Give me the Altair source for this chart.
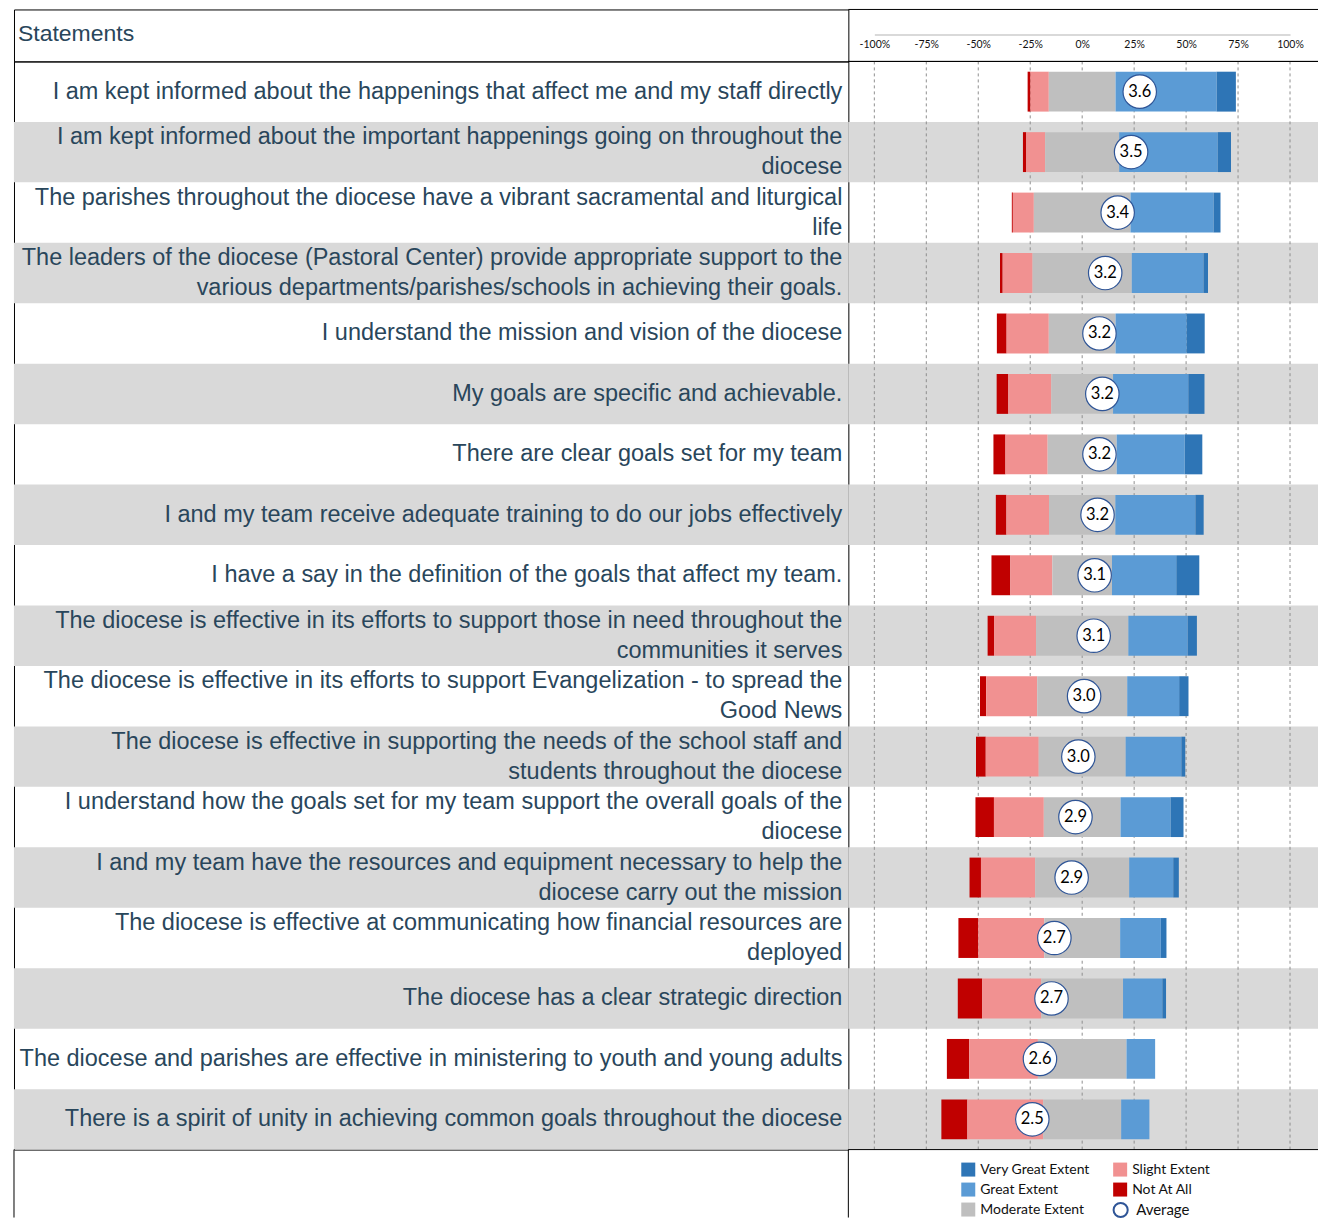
import altair as alt
import pandas as pd

# ---------------- data ----------------
statements = [
    "I am kept informed about the happenings that affect me and my staff directly",
    "I am kept informed about the important happenings going on throughout the\ndiocese",
    "The parishes throughout the diocese have a vibrant sacramental and liturgical\nlife",
    "The leaders of the diocese (Pastoral Center) provide appropriate support to the\nvarious departments/parishes/schools in achieving their goals.",
    "I understand the mission and vision of the diocese",
    "My goals are specific and achievable.",
    "There are clear goals set for my team",
    "I and my team receive adequate training to do our jobs effectively",
    "I have a say in the definition of the goals that affect my team.",
    "The diocese is effective in its efforts to support those in need throughout the\ncommunities it serves",
    "The diocese is effective in its efforts to support Evangelization - to spread the\nGood News",
    "The diocese is effective in supporting the needs of the school staff and\nstudents throughout the diocese",
    "I understand how the goals set for my team support the overall goals of the\ndiocese",
    "I and my team have the resources and equipment necessary to help the\ndiocese carry out the mission",
    "The diocese is effective at communicating how financial resources are\ndeployed",
    "The diocese has a clear strategic direction",
    "The diocese and parishes are effective in ministering to youth and young adults",
    "There is a spirit of unity in achieving common goals throughout the diocese",
]
not_at_all = [1.4, 1.6, 0.5, 1.3, 4.7, 5.6, 5.8, 5.1, 9.1, 3.1, 3.0, 4.7, 8.9, 5.5, 9.6, 11.7, 10.8, 12.5]
slight = [8.8, 9.1, 10.1, 14.4, 20.3, 20.7, 20.3, 20.5, 20.2, 20.2, 24.5, 25.5, 24.0, 26.1, 31.7, 28.5, 33.0, 36.5]
moderate = [32.1, 35.6, 46.5, 47.7, 32.1, 29.7, 33.2, 31.9, 28.7, 44.4, 43.3, 41.8, 36.9, 45.2, 36.5, 39.3, 42.6, 37.5]
great = [48.6, 47.4, 39.9, 34.5, 34.1, 36.2, 32.7, 38.5, 30.9, 28.5, 25.0, 26.8, 24.0, 21.2, 19.6, 18.9, 13.8, 13.6]
very_great = [9.3, 6.4, 3.4, 2.2, 8.8, 7.8, 8.5, 4.0, 11.1, 4.5, 4.5, 1.9, 6.3, 2.7, 2.7, 1.8, 0.0, 0.0]
averages = [3.60, 3.51, 3.37, 3.24, 3.18, 3.21, 3.18, 3.16, 3.13, 3.12, 3.02, 2.96, 2.93, 2.89, 2.71, 2.68, 2.56, 2.48]

stack_order = ["Not At All", "Slight Extent", "Moderate Extent", "Great Extent", "Very Great Extent"]
legend_order = ["Very Great Extent", "Great Extent", "Moderate Extent", "Slight Extent", "Not At All"]
legend_colors = ["#2e75b6", "#5b9bd5", "#bfbfbf", "#f19191", "#c00000"]
tick_values = [-100, -75, -50, -25, 0, 25, 50, 75, 100]
header_title = "Statements"
avg_label = "Average"

# ---------------- layout / style ----------------
LEFT_W, RIGHT_W = 835, 470
HEAD_H, ROWS_H, LEG_H = 52, 1089, 68
TEXT_COLOR = "#29465b"
BAND_COLOR = "#d9d9d9"
AVG_STROKE = "#2f5597"
X_SCALE = alt.Scale(domain=[-100, 100], range=[26, 442], nice=False, zero=False)
AVG_SCALE = alt.Scale(domain=[1, 5], range=[42, 426], nice=False, zero=False)
Y = alt.Y("idx:O", axis=None, scale=alt.Scale(type="band", paddingInner=0, paddingOuter=0))

rows = pd.DataFrame({"idx": list(range(len(statements))), "statement": statements, "avg": averages})

seg = []
for i in range(len(statements)):
    vals = [not_at_all[i], slight[i], moderate[i], great[i], very_great[i]]
    start = -(vals[0] + vals[1] + vals[2] / 2.0)
    for name, v in zip(stack_order, vals):
        if v > 0:
            seg.append({"idx": i, "cat": name, "x0": start, "x1": start + v})
        start += v
segs = pd.DataFrame(seg)
ticks_df = pd.DataFrame({"v": tick_values})
one = pd.DataFrame({"k": [0]})
head_df = pd.DataFrame({"t": [header_title]})

black_box = alt.ViewBackground(stroke="black", strokeWidth=1)

# ---------------- header row ----------------
head_left = alt.Chart(head_df).mark_text(
    align="left", baseline="middle", font="Liberation Sans", fontSize=23, color=TEXT_COLOR
).encode(x=alt.value(4), y=alt.value(25), text="t:N").properties(
    width=LEFT_W, height=HEAD_H, view=black_box
)

head_axis = alt.Chart(ticks_df).mark_point(opacity=0).encode(
    x=alt.X(
        "v:Q",
        scale=X_SCALE,
        axis=alt.Axis(
            values=tick_values, orient="bottom", offset=-27, labelExpr="datum.value + '%'",
            domainColor="#d9d9d9", domainWidth=2, ticks=False, tickSize=0, labelPadding=5,
            labelFont="Lato", labelFontSize=10.5, labelColor="#111111", grid=False,
            labelFlush=False, labelOverlap=False, title=None,
        ),
    )
)
hr_top = alt.Chart(one).mark_rule(color="black", strokeWidth=1).encode(
    y=alt.value(0), x=alt.value(0), x2=alt.value(RIGHT_W))
hr_bot = alt.Chart(one).mark_rule(color="black", strokeWidth=1).encode(
    y=alt.value(HEAD_H), x=alt.value(0), x2=alt.value(RIGHT_W))
head_right = alt.layer(head_axis, hr_top, hr_bot).properties(width=RIGHT_W, height=HEAD_H)

# ---------------- rows ----------------
bands_l = alt.Chart(rows).transform_filter("datum.idx % 2 == 1").mark_rect(color=BAND_COLOR).encode(
    y=Y, x=alt.value(0), x2=alt.value(LEFT_W))
label_style = dict(align="right", baseline="middle", font="Liberation Sans", fontSize=23.5,
                   lineHeight=30, color=TEXT_COLOR)
labels_one = alt.Chart(rows).transform_filter(
    "indexof(datum.statement, '\\n') < 0"
).mark_text(dx=-6, **label_style).encode(y=Y, x=alt.value(LEFT_W), text="statement:N")
labels_two = alt.Chart(rows).transform_filter(
    "indexof(datum.statement, '\\n') >= 0"
).transform_calculate(lines="split(datum.statement, '\\n')").mark_text(
    dx=-6, dy=-15, **label_style
).encode(y=Y, x=alt.value(LEFT_W), text="lines:N")
rows_left = alt.layer(bands_l, labels_one, labels_two).properties(
    width=LEFT_W, height=ROWS_H, view=black_box)

bands_r = alt.Chart(rows).transform_filter("datum.idx % 2 == 1").mark_rect(color=BAND_COLOR).encode(
    y=Y, x=alt.value(0), x2=alt.value(RIGHT_W))
grid = alt.Chart(ticks_df).mark_rule(color="#8f8f8f", strokeDash=[3, 3], strokeWidth=1).encode(
    x=alt.X("v:Q", scale=X_SCALE, axis=None))
bars = alt.Chart(segs).mark_bar(height=alt.RelativeBandSize(band=0.66)).encode(
    x=alt.X("x0:Q", scale=X_SCALE, axis=None),
    x2="x1:Q",
    y=Y,
    color=alt.Color(
        "cat:N",
        scale=alt.Scale(domain=legend_order, range=legend_colors),
        legend=alt.Legend(
            orient="none", legendX=948, legendY=1154, columns=2, columnPadding=23, rowPadding=6,
            symbolType="square", symbolSize=196, symbolStrokeWidth=0, labelFont="Lato",
            labelFontSize=14, labelColor="#111111", labelOffset=5, title=None,
        ),
    ),
)
circles = alt.Chart(rows).transform_calculate(series="'" + avg_label + "'").mark_point(
    shape="circle", filled=True, fill="white", strokeWidth=1.2, size=1120, opacity=1
).encode(
    x=alt.X("avg:Q", scale=AVG_SCALE, axis=None),
    y=Y,
    stroke=alt.Stroke(
        "series:N",
        scale=alt.Scale(domain=[avg_label], range=[AVG_STROKE]),
        legend=alt.Legend(
            orient="none", legendX=1099, legendY=1193, title=None, symbolType="circle",
            symbolSize=200, symbolFillColor="white", symbolStrokeColor=AVG_STROKE,
            symbolStrokeWidth=2, labelFont="Lato", labelFontSize=15, labelColor="#111111",
            labelOffset=7,
        ),
    ),
)
avg_text = alt.Chart(rows).mark_text(font="Lato", fontSize=16.5, color="black", baseline="middle").encode(
    x=alt.X("avg:Q", scale=AVG_SCALE, axis=None), y=Y, text=alt.Text("avg:Q", format=".1f"))
rr_top = alt.Chart(one).mark_rule(color="black", strokeWidth=1).encode(
    y=alt.value(0), x=alt.value(0), x2=alt.value(RIGHT_W))
rr_bot = alt.Chart(one).mark_rule(color="black", strokeWidth=1).encode(
    y=alt.value(ROWS_H), x=alt.value(0), x2=alt.value(RIGHT_W))
rows_right = alt.layer(bands_r, grid, bars, circles, avg_text, rr_top, rr_bot).resolve_scale(
    x="independent").properties(width=RIGHT_W, height=ROWS_H)

# ---------------- legend row (left cell lines) ----------------
ll_a = alt.Chart(one).mark_rule(color="black", strokeWidth=1).encode(
    x=alt.value(0), y=alt.value(0), y2=alt.value(LEG_H))
ll_b = alt.Chart(one).mark_rule(color="black", strokeWidth=1).encode(
    x=alt.value(LEFT_W), y=alt.value(0), y2=alt.value(LEG_H))
leg_left = alt.layer(ll_a, ll_b).properties(width=LEFT_W, height=LEG_H)

chart = alt.concat(
    head_left, head_right, rows_left, rows_right, leg_left,
    columns=2, spacing=0, bounds="flush", align="each",
).properties(
    padding={"left": 5, "top": 0, "right": 0, "bottom": 0}
).configure_view(stroke="transparent")

chart.save("out.html", embed_options={"renderer": "svg", "actions": False})
